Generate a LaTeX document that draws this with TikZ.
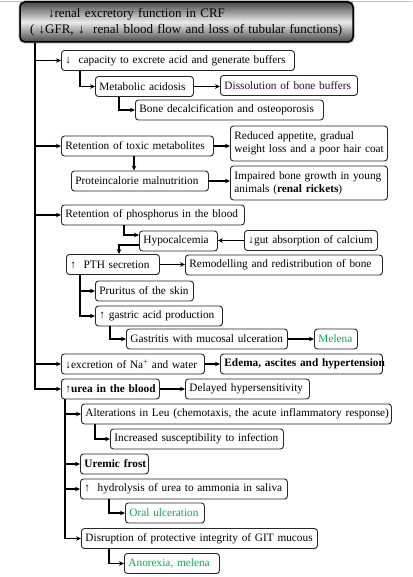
\documentclass[tikz,border=0pt]{standalone}
\usepackage{fontspec}
\setmainfont{Liberation Serif}
\usetikzlibrary{arrows.meta,calc}
\definecolor{mygreen}{RGB}{0,176,80}
\definecolor{darkpurp}{RGB}{45,10,55}
\tikzset{
  bx/.style={draw=black!85, line width=0.9pt, rounded corners=3pt, fill=white,
    anchor=west, inner xsep=4pt, inner ysep=0pt, minimum height=20pt, align=left,
    font=\fontsize{11.3}{13}\selectfont},
  ar/.style={-{Stealth[length=5pt,width=4.5pt]}, line width=1.1pt},
  ln/.style={line width=1.1pt}
}
\begin{document}
\begin{tikzpicture}[x=1pt,y=-1pt]
\useasboundingbox (0,0) rectangle (412,577);
\draw[black!25, line width=0.6pt] (0,1.2) -- (412,1.2);
% title
\node[draw=black, line width=1.5pt, rounded corners=5pt,
  top color=black!72, bottom color=black!72, middle color=black!8,
  preaction={draw=black!35, line width=3pt},
  minimum width=333pt, minimum height=40pt, text width=313pt, inner xsep=10pt, inner ysep=0pt,
  align=left, font=\fontsize{13}{16}\selectfont] (title) at (186.5,22)
  {\mbox{\hspace*{18pt}↓renal excretory function in CRF}\\\mbox{( ↓GFR, ↓\ \ renal blood flow and loss of tubular functions)}};
% boxes
\node[bx, text width=225pt] (cap) at (61,60.5) {\mbox{↓\ \ capacity to excrete acid and generate buffers}};
\node[bx, text width=90pt] (meta) at (95,86.5) {\mbox{Metabolic acidosis}};
\node[bx, text width=129pt, text=darkpurp] (diss) at (220,85.5) {\mbox{Dissolution of bone buffers}};
\node[bx, text width=180pt] (bone) at (135,110) {\mbox{Bone decalcification and osteoporosis}};
\node[bx, text width=144pt] (ret) at (61,146) {\mbox{Retention of toxic metabolites}};
\node[bx, text width=149pt, minimum height=35pt] (red) at (230,143.5) {\mbox{Reduced appetite, gradual}\\\mbox{weight loss and a poor hair coat}};
\node[bx, text width=129pt] (prot) at (71,181) {\mbox{Proteincalorie malnutrition}};
\node[bx, text width=149pt, minimum height=34pt] (imp) at (230,183) {\mbox{Impaired bone growth in young}\\\mbox{animals (\textbf{renal rickets})}};
\node[bx, text width=175pt] (phos) at (61,215) {\mbox{Retention of phosphorus in the blood}};
\node[bx, text width=70pt] (hypo) at (139,241) {\mbox{Hypocalcemia}};
\node[bx, text width=125pt] (gut) at (244,240.5) {\mbox{↓gut absorption of calcium}};
\node[bx, text width=85pt] (pth) at (66,264.5) {\mbox{↑\ \ PTH secretion}};
\node[bx, text width=189pt] (rem) at (185,265) {\mbox{Remodelling and redistribution of bone}};
\node[bx, text width=90pt] (prur) at (95,291) {\mbox{Pruritus of the skin}};
\node[bx, text width=119pt] (gas) at (95,316) {\mbox{↑ gastric acid production}};
\node[bx, text width=153pt] (gast) at (126,339) {\mbox{Gastritis with mucosal ulceration}};
\node[bx, text width=35pt, text=mygreen] (mel) at (314,339) {\mbox{Melena}};
\node[bx, text width=135pt] (na) at (61,364) {\mbox{↓excretion of Na\textsuperscript{+} and water}};
\node[bx, text width=154pt] (ede) at (220,364) {\mbox{\textbf{Edema, ascites and hypertension}}};
\node[bx, text width=90pt] (urea) at (61,389) {\mbox{↑\textbf{urea in the blood}}};
\node[bx, text width=116pt] (del) at (185,389) {\mbox{Delayed hypersensitivity}};
\node[bx, text width=302pt] (alt) at (81,414) {\mbox{Alterations in Leu (chemotaxis, the acute inflammatory response)}};
\node[bx, text width=165pt] (inc) at (110,439) {\mbox{Increased susceptibility to infection}};
\node[bx, text width=60pt] (ure) at (80,464) {\mbox{\textbf{Uremic frost}}};
\node[bx, text width=199pt] (hyd) at (80,489) {\mbox{↑\ \ hydrolysis of urea to ammonia in saliva}};
\node[bx, text width=71pt, text=mygreen] (oral) at (125,513) {\mbox{Oral ulceration}};
\node[bx, text width=228pt] (dis) at (81,538.5) {\mbox{Disruption of protective integrity of GIT mucous}};
\node[bx, text width=87pt, text=mygreen] (ano) at (124,563.5) {\mbox{Anorexia, melena}};
% main trunk
\coordinate (tr) at (35,0);
\draw[ar] (title.south -| tr) |- (urea.west);
\draw[ar] (cap.west -| tr) -- (cap.west);
\draw[ar] (ret.west -| tr) -- (ret.west);
\draw[ar] (phos.west -| tr) -- (phos.west);
\draw[ar] (na.west -| tr) -- (na.west);
% branch 1
\draw[ar] (cap.south -| 80,0) |- (meta.west);
\draw[ar] (meta.east) -- (meta.east -| diss.west);
\draw[ar] (meta.south -| 119,0) |- (bone.west);
% branch 2
\draw[ar] (ret.east) -- (ret.east -| red.west);
\draw[ar] (ret.south -| 134,0) -- (prot.north -| 134,0);
\draw[ar] (prot.east) -- (prot.east -| imp.west);
% branch 3
\draw[ar] (phos.south -| 124,0) |- ([yshift=6pt]hypo.west);
\draw[ar] (gut.west) -- (gut.west -| hypo.east);
\draw[ar] ([yshift=-4pt]hypo.west) -| (pth.north -| 119,0);
\draw[ar] (pth.east) -- (pth.east -| rem.west);
\draw[ar] (pth.south -| 80,0) |- (prur.west);
\draw[ar] (pth.south -| 80,0) |- (gas.west);
\draw[ar] (gas.south -| 110,0) |- (gast.west);
\draw[ar] (gast.east) -- (mel.west);
% branch 4
\draw[ar] (na.east) -- (ede.west);
% branch 5
\draw[ar] (urea.east) -- (del.west);
\draw[ar] (urea.south -| 65,0) |- (alt.west);
\draw[ar] (urea.south -| 65,0) |- (ure.west);
\draw[ar] (urea.south -| 65,0) |- (hyd.west);
\draw[ar] (urea.south -| 65,0) |- (dis.west);
\draw[ar] (alt.south -| 95,0) |- (inc.west);
\draw[ar] (hyd.south -| 109,0) |- (oral.west);
\draw[ar] (dis.south -| 109,0) |- (ano.west);
\end{tikzpicture}
\end{document}
